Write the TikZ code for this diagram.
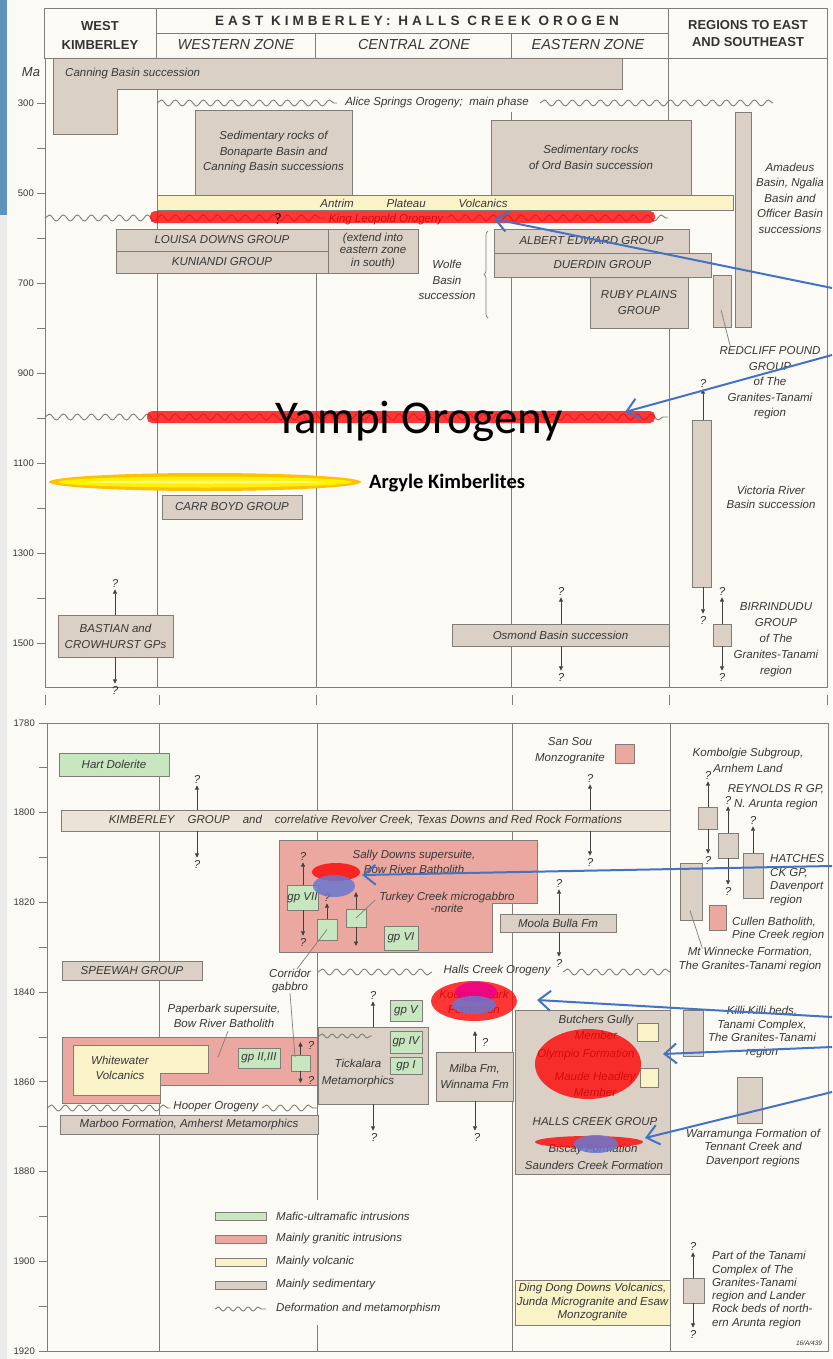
\documentclass[tikz,border=0pt]{standalone}
\usepackage{fontspec}
\setmainfont{Liberation Sans}
\newfontfamily\calibfont{Carlito}
\newfontfamily\spacedfont{Liberation Sans}[LetterSpace=30]
\usepackage{tikz}
\usetikzlibrary{arrows.meta, calc, decorations.pathmorphing, decorations.pathreplacing}
\definecolor{paper}{RGB}{251,250,244}
\definecolor{slideblue}{RGB}{96,146,186}
\definecolor{sedtan}{RGB}{218,208,197}
\definecolor{sedlight}{RGB}{236,227,215}
\definecolor{granpink}{RGB}{234,168,160}
\definecolor{mafgreen}{RGB}{200,230,192}
\definecolor{volcyel}{RGB}{251,243,200}
\definecolor{gridgrey}{RGB}{128,124,120}
\definecolor{inkgrey}{RGB}{55,55,55}
\definecolor{markblue}{RGB}{68,114,196}
\definecolor{blobblue}{RGB}{108,118,206}
\definecolor{kimbgold}{RGB}{255,192,0}

\begin{document}
\begin{tikzpicture}[x=1pt, y=-1pt,
    font=\fontsize{11.5}{15.5}\selectfont\itshape,
    grd/.style={draw=gridgrey, line width=0.9pt},
    lead/.style={draw=gridgrey, line width=0.7pt},
    wh/.style 2 args={minimum width=#1pt, minimum height=#2pt},
    sed/.style={rectangle, draw=gridgrey, line width=0.9pt, fill=sedtan,
                anchor=north west, inner sep=0pt, outer sep=0pt,
                align=center, text=inkgrey},
    gran/.style={sed, fill=granpink},
    maf/.style={sed, fill=mafgreen},
    volc/.style={sed, fill=volcyel},
    sedfill/.style={draw=gridgrey, line width=0.9pt, fill=sedtan},
    granfill/.style={sedfill, fill=granpink},
    volcfill/.style={sedfill, fill=volcyel},
    lbl/.style={inner sep=0pt, align=center, text=inkgrey},
    tight/.style={font=\fontsize{11.5}{13.5}\selectfont\itshape},
    qm/.style={lbl, font=\fontsize{11.5}{12}\selectfont\itshape},
    qa/.style={draw=black!75, line width=0.8pt, shorten >=2pt,
               -{Triangle[length=4.5pt, width=4pt]}},
    wav/.style={draw=gridgrey, line width=0.9pt, decorate,
                decoration={snake, segment length=14pt, amplitude=3pt}},
    hdr/.style={lbl, text=black!80, font=\fontsize{13}{19}\selectfont\bfseries},
    zone/.style={lbl, font=\fontsize{14.5}{15}\selectfont\itshape},
    tlab/.style={lbl, anchor=east, font=\fontsize{9.5}{10}\selectfont},
    hl/.style={fill=red, opacity=0.78},
    hb/.style={fill=blobblue, opacity=0.85},
    ba/.style={draw=markblue, line width=2pt,
               -{Straight Barb[length=12pt, width=20pt]}}
]
% background and slide edge
\useasboundingbox (0,0) rectangle (832,1359);
\fill[paper] (0,0) rectangle (832,1359);
\fill[slideblue] (0,0) rectangle (7,215);
\fill[black!8] (0,215) rectangle (7,1359);

% header
\draw[grd] (44,8) rectangle (827,58);
\draw[grd] (156,8) -- (156,58) (668,8) -- (668,58) (156,33) -- (668,33)
           (315,33) -- (315,58) (511,33) -- (511,58);
\node[hdr] (hwest) at (100,35) {WEST\\KIMBERLEY};
\node[hdr, font=\fontsize{13.5}{14}\selectfont\spacedfont\bfseries] (heast) at (417,21)
    {EAST KIMBERLEY: HALLS CREEK OROGEN};
\node[zone] (zwest) at (236,45) {WESTERN ZONE};
\node[zone] (zcent) at (414,45) {CENTRAL ZONE};
\node[zone] (zeast) at (588,45) {EASTERN ZONE};
\node[hdr, font=\fontsize{13}{17}\selectfont\bfseries] (hreg) at (748,33.5)
    {REGIONS TO EAST\\AND SOUTHEAST};
\node[lbl, font=\fontsize{13}{13}\selectfont\itshape] (maunit) at (31,72) {Ma};

% upper panel frame and ticks (200-1600 Ma)
\draw[grd] (45,58) -- (45,687) -- (827,687) -- (827,58);
\draw[grd] (157,58) -- (157,687);
\draw[grd] (316,273) -- (316,687);
\draw[grd] (511,112) -- (511,120) (511,277) -- (511,687);
\draw[grd] (668,58) -- (668,120) (669,328) -- (669,687);
\foreach \m in {300,400,...,1500}
    \draw[grd] (37,{58+(\m-200)*0.45}) -- (45,{58+(\m-200)*0.45});
\foreach \m in {300,500,...,1500}
    \node[tlab] (u\m) at (34,{58+(\m-200)*0.45}) {\m};

% break marks
\foreach \x in {45,159,316,512,669,827}
    \draw[grd] (\x,695) -- (\x,705);

% lower panel frame and ticks (1780-1920 Ma)
\draw[grd] (47,723) -- (828,723);
\draw[grd] (47,723) -- (47,1351) -- (828,1351) -- (828,723);
\draw[grd] (159,723) -- (159,1351);
\draw[grd] (317,723) -- (317,1200) (317,1325) -- (317,1351);
\draw[grd] (512,723) -- (512,1351);
\draw[grd] (670,723) -- (670,1351);
\foreach \m in {1780,1790,...,1920}
    \draw[grd] (39,{723+(\m-1780)*4.486}) -- (47,{723+(\m-1780)*4.486});
\foreach \m in {1780,1800,...,1920}
    \node[tlab] (l\m) at (35,{723+(\m-1780)*4.486}) {\m};

% ---- upper panel units
\draw[sedfill] (53,58) -- (622,58) -- (622,89) -- (117,89) -- (117,134) -- (53,134) -- cycle;
\node[lbl, anchor=west] (canning) at (65,74) {Canning Basin succession};

\draw[wav] (157,103) -- (337,103);
\node[lbl] (alice) at (437,103) {Alice Springs Orogeny;\ \ main phase};
\draw[wav] (540,103) -- (773,103);

\node[sed, wh={157}{85}] (bonap) at (195,110)
    {Sedimentary rocks of\\Bonaparte Basin and\\Canning Basin successions};
\node[sed, wh={200}{75}] (ord) at (491,120) {Sedimentary rocks\\of Ord Basin succession};
\node[volc, wh={576}{15}] (antrim) at (157,195) {};
\node[lbl] (antrimtx) at (414,203) {Antrim\hspace{33pt}Plateau\hspace{33pt}Volcanics};

\draw[wav] (45,218) -- (325,218);
\node[lbl] (kltx) at (386,220) {King Leopold Orogeny};
\draw[wav] (447,218) -- (668,218);

\node[sed, wh={16}{215}] (amadeus) at (735,112) {};
\node[lbl] (amadtx) at (790,198) {Amadeus\\Basin, Ngalia\\Basin and\\Officer Basin\\successions};

\node[sed, wh={212}{22}] (louisa) at (116,229) {LOUISA DOWNS GROUP};
\node[sed, wh={212}{22}] (kuni) at (116,251) {KUNIANDI GROUP};
\node[sed, wh={90}{44}, font=\fontsize{11.5}{12.5}\selectfont\itshape] (extend) at (328,229)
    {(extend into\\eastern zone\\in south)};
\node[lbl] (wolfe) at (447,280) {Wolfe\\Basin\\succession};
\draw[lead, decorate, decoration={brace, amplitude=4pt}] (488,318) -- (488,231);
\node[sed, wh={195}{24}] (albert) at (494,229) {ALBERT EDWARD GROUP};
\node[sed, wh={217}{24}] (duerdin) at (494,253) {DUERDIN GROUP};
\node[sed, wh={98}{51}, font=\fontsize{11.5}{16}\selectfont\itshape] (ruby) at (590,277)
    {RUBY PLAINS\\GROUP};

\node[sed, wh={18}{52}] (redcliff) at (713,275) {};
\node[lbl] (redtx) at (770,383) {REDCLIFF POUND\\GROUP\\of The\\Granites-Tanami\\region};
\draw[lead] ($(redcliff.center)+(-1,9)$) -- ($(redtx.north west)+(11,0)$);

\draw[wav] (45,417) -- (668,417);

\node[qm] (victq1) at (703,383) {?};
\node[sed, wh={19}{167}] (vict) at (692,420) {};
\node[qm] (victq2) at (703,620) {?};
\draw[qa] (vict.north -| victq1) -- (victq1.south);
\draw[qa] (vict.south -| victq2) -- (victq2.north);
\node[lbl, font=\fontsize{11.5}{14}\selectfont\itshape] (victtx) at (771,497)
    {Victoria River\\Basin succession};

\node[sed, wh={140}{24}] (carr) at (162,495) {CARR BOYD GROUP};

\node[sed, wh={115}{42}, font=\fontsize{11.5}{16}\selectfont\itshape] (bastian) at (58,615)
    {BASTIAN and\\CROWHURST GPs};
\node[qm] (bastq1) at (115,583) {?};
\node[qm] (bastq2) at (115,690) {?};
\draw[qa] (bastian.north -| bastq1) -- (bastq1.south);
\draw[qa] (bastian.south -| bastq2) -- (bastq2.north);

\node[sed, wh={217}{22}] (osmond) at (452,624) {Osmond Basin succession};
\node[qm] (osmq1) at (561,591) {?};
\node[qm] (osmq2) at (561,677) {?};
\draw[qa] (osmond.north -| osmq1) -- (osmq1.south);
\draw[qa] (osmond.south -| osmq2) -- (osmq2.north);

\node[sed, wh={18}{22}] (birri) at (713,624) {};
\node[qm] (birq1) at (722,591) {?};
\node[qm] (birq2) at (722,677) {?};
\draw[qa] (birri.north -| birq1) -- (birq1.south);
\draw[qa] (birri.south -| birq2) -- (birq2.north);
\node[lbl, font=\fontsize{11.5}{16}\selectfont\itshape] (birritx) at (776,640)
    {BIRRINDUDU\\GROUP\\of The\\Granites-Tanami\\region};

% ---- lower panel units
\node[maf, wh={110}{23}] (hart) at (59,753) {Hart Dolerite};

\node[sed, wh={609}{21}, fill=sedlight] (kimb) at (61,810)
    {KIMBERLEY\hspace{13pt}GROUP\hspace{13pt}and\hspace{13pt}correlative Revolver Creek, Texas Downs and Red Rock Formations};
\node[qm] (kimq1) at (197,779) {?};
\node[qm] (kimq2) at (197,864) {?};
\node[qm] (kimq3) at (590,778) {?};
\node[qm] (kimq4) at (590,862) {?};
\draw[qa] (kimb.north -| kimq1) -- (kimq1.south);
\draw[qa] (kimb.south -| kimq2) -- (kimq2.north);
\draw[qa] (kimb.north -| kimq3) -- (kimq3.south);
\draw[qa] (kimb.south -| kimq4) -- (kimq4.north);

\node[gran, wh={19}{19}] (sansou) at (615,744) {};
\node[lbl, font=\fontsize{11.5}{16}\selectfont\itshape] (sansoutx) at (570,751)
    {San Sou\\Monzogranite};

\draw[granfill] (279,840) -- (537,840) -- (537,903) -- (492,903) -- (492,952) -- (279,952) -- cycle;
\node[lbl, font=\fontsize{11.5}{15}\selectfont\itshape] (sallytx) at (414,862)
    {Sally Downs supersuite,\\Bow River Batholith};
\node[lbl, font=\fontsize{11.5}{12}\selectfont\itshape] (turktx) at (447,902)
    {Turkey Creek microgabbro\\-norite};

\node[maf, wh={31}{25}] (gp7) at (287,885) {gp VII};
\node[qm] (gp7q1) at (303,856) {?};
\node[qm] (gp7q2) at (303,942) {?};
\draw[qa] (gp7.north -| gp7q1) -- (gp7q1.south);
\draw[qa] (gp7.south -| gp7q2) -- (gp7q2.north);

\node[maf, wh={20}{21}] (gpc1) at (317,919) {};
\node[qm] (gpc1q) at (327,897) {?};
\draw[qa] (gpc1.north) -- (gpc1q.south);

\node[maf, wh={20}{18}] (gpt) at (346,909) {};
\coordinate (gptu) at (356,890);
\coordinate (gptd) at (356,948);
\draw[qa] (gpt.north) -- (gptu);
\draw[qa] (gpt.south) -- (gptd);
\draw[lead] (gpt.center) -- ($(turktx.west)+(-4,-2)$);

\node[maf, wh={34}{24}] (gp6) at (384,926) {gp VI};

\node[sed, wh={116}{18}] (moola) at (500,914) {Moola Bulla Fm};
\node[qm] (moolq1) at (559,883) {?};
\node[qm] (moolq2) at (559,963) {?};
\draw[qa] (moola.north -| moolq1) -- (moolq1.south);
\draw[qa] (moola.south -| moolq2) -- (moolq2.north);

\draw[wav] (318,972) -- (432,972);
\node[lbl] (hcotx) at (497,971) {Halls Creek Orogeny};
\draw[wav] (563,972) -- (670,972);

\node[sed, wh={140}{19}] (speewah) at (62,961) {SPEEWAH GROUP};

\node[lbl, font=\fontsize{11.5}{13}\selectfont\itshape] (corrtx) at (290,981) {Corridor\\gabbro};
\draw[lead] (gpc1.center) -- ($(corrtx.north)+(7,0)$);

\node[lbl] (paptx) at (224,1016) {Paperbark supersuite,\\Bow River Batholith};
\draw[granfill] (62,1037) -- (317,1037) -- (317,1085) -- (160,1085) -- (160,1103) -- (62,1103) -- cycle;
\draw[volcfill] (73,1045) -- (208,1045) -- (208,1073) -- (160,1073) -- (160,1095) -- (73,1095) -- cycle;
\node[lbl] (whitetx) at (120,1068) {Whitewater\\Volcanics};
\coordinate (papend) at (218,1057);
\draw[lead] ($(paptx.south)+(4,3)$) -- (papend);

\node[maf, wh={42}{20}] (gp23) at (238,1048) {gp II,III};
\node[maf, wh={19}{16}] (gpc2) at (291,1055) {};
\coordinate (gpc2u) at (300.5,1040);
\coordinate (gpc2d) at (300.5,1085);
\draw[qa] (gpc2.north) -- (gpc2u);
\draw[qa] (gpc2.south) -- (gpc2d);
\node[qm] (gpc2q1) at (311,1045) {?};
\node[qm] (gpc2q2) at (311,1080) {?};
\draw[lead] (corrtx.south) -- ($(gpc2.north west)+(4,2)$);

\node[sed, wh={110}{77}] (tick) at (318,1027) {};
\draw[wav, decoration={snake, segment length=10pt, amplitude=2pt}] (319,1036) -- (372,1036);
\node[lbl, font=\fontsize{11.5}{16.5}\selectfont\itshape] (ticktx) at (358,1073)
    {Tickalara\\Metamorphics};
\node[qm] (tickq1) at (373,995) {?};
\node[qm] (tickq2) at (374,1137) {?};
\draw[qa] (tick.north -| tickq1) -- (tickq1.south);
\draw[qa] (tick.south -| tickq1) -- (tickq2.north -| tickq1);

\node[maf, wh={32}{21}] (gp5) at (390,1000) {gp V};
\node[maf, wh={32}{22}] (gp4) at (390,1031) {gp IV};
\node[maf, wh={32}{17}] (gp1) at (390,1057) {gp I};

\node[lbl] (koongtx) at (474,1002) {Koongie Park\\Formation};
\node[sed, wh={77}{49}] (milba) at (436,1052) {Milba Fm,\\Winnama Fm};
\coordinate (milbu) at (475,1029);
\draw[qa] (milba.north -| milbu) -- (milbu);
\node[qm] (milbq1) at (485,1042) {?};
\node[qm] (milbq2) at (477,1137) {?};
\draw[qa] (milba.south -| milbu) -- (milbq2.north -| milbu);

\node[sed, wh={155}{164}] (hcg) at (515,1010) {};
\node[lbl, font=\fontsize{11.5}{16}\selectfont\itshape] (butch) at (596,1027) {Butchers Gully\\Member};
\node[lbl] (olymp) at (586,1055) {Olympio Formation};
\node[lbl, font=\fontsize{11.5}{16}\selectfont\itshape] (maude) at (595,1084) {Maude Headley\\Member};
\node[lbl] (hcgtx) at (595,1122) {HALLS CREEK GROUP};
\node[lbl] (biscay) at (593,1150) {Biscay Formation};
\node[lbl] (saund) at (594,1165) {Saunders Creek Formation};
\node[volc, wh={21}{18}] (hcgv1) at (637,1023) {};
\node[volc, wh={18}{19}] (hcgv2) at (640,1068) {};

\node[volc, wh={155}{45}, tight] (dingdong) at (515,1280)
    {Ding Dong Downs Volcanics,\\Junda Microgranite and Esaw\\Monzogranite};

\draw[wav] (47,1108) -- (170,1108);
\node[lbl] (hooptx) at (216,1107) {Hooper Orogeny};
\draw[wav] (262,1108) -- (317,1108);
\node[sed, wh={258}{19}] (marboo) at (60,1115) {Marboo Formation, Amherst Metamorphics};

% legend
\node[maf, wh={51}{8}] (legmaf) at (215,1212) {};
\node[lbl, anchor=west] (legmaftx) at (276,1216) {Mafic-ultramafic intrusions};
\node[gran, wh={51}{8}] (leggran) at (215,1235) {};
\node[lbl, anchor=west] (leggrantx) at (276,1239) {Mainly granitic intrusions};
\node[volc, wh={51}{8}] (legvolc) at (215,1258) {};
\node[lbl, anchor=west] (legvolctx) at (276,1262) {Mainly volcanic};
\node[sed, wh={51}{8}] (legsed) at (215,1281) {};
\node[lbl, anchor=west] (legsedtx) at (276,1285) {Mainly sedimentary};
\draw[wav, decoration={snake, segment length=10pt, amplitude=2pt}] (215,1309) -- (266,1309);
\node[lbl, anchor=west] (legwavtx) at (276,1309) {Deformation and metamorphism};

% regions to east, lower panel
\node[lbl, font=\fontsize{11.5}{16}\selectfont\itshape] (kombtx) at (748,760)
    {Kombolgie Subgroup,\\Arnhem Land};
\node[sed, wh={19}{22}] (reg1) at (698,807) {};
\node[qm] (reg1q1) at (708,775) {?};
\node[qm] (reg1q2) at (708,860) {?};
\draw[qa] (reg1.north -| reg1q1) -- (reg1q1.south);
\draw[qa] (reg1.south -| reg1q2) -- (reg1q2.north);
\node[lbl, font=\fontsize{11.5}{15}\selectfont\itshape] (reyntx) at (776,797)
    {REYNOLDS R GP,\\N. Arunta region};
\node[sed, wh={20}{25}] (reg2) at (718,833) {};
\node[qm] (reg2q1) at (728,800) {?};
\node[qm] (reg2q2) at (728,891) {?};
\draw[qa] (reg2.north -| reg2q1) -- (reg2q1.south);
\draw[qa] (reg2.south -| reg2q2) -- (reg2q2.north);
\node[sed, wh={20}{45}] (reg3) at (743,853) {};
\node[qm] (reg3q1) at (753,820) {?};
\draw[qa] (reg3.north -| reg3q1) -- (reg3q1.south);
\node[lbl, anchor=west, align=left, tight] (hatchtx) at (770,880)
    {HATCHES\\CK GP,\\Davenport\\region};

\node[sed, wh={22}{57}] (reg4) at (680,863) {};
\node[gran, wh={17}{25}] (cullen) at (709,905) {};
\node[lbl, anchor=west, align=left, tight] (cultx) at (732,929)
    {Cullen Batholith,\\Pine Creek region};
\node[lbl, font=\fontsize{11.5}{14}\selectfont\itshape] (mtwtx) at (750,960)
    {Mt Winnecke Formation,\\The Granites-Tanami region};
\draw[lead] ($(reg4.center)+(-1,19)$) -- ($(mtwtx.north west)+(24,1)$);

\node[sed, wh={20}{46}] (killi) at (683,1010) {};
\node[lbl, tight] (killtx) at (762,1032)
    {Killi Killi beds,\\Tanami Complex,\\The Granites-Tanami\\region};

\node[sed, wh={25}{46}] (warra) at (737,1077) {};
\node[lbl, tight] (warratx) at (753,1148)
    {Warramunga Formation of\\Tennant Creek and\\Davenport regions};

\node[sed, wh={21}{25}] (tanpart) at (683,1278) {};
\node[qm] (tanq1) at (693,1246) {?};
\node[qm] (tanq2) at (693,1334) {?};
\draw[qa] (tanpart.north -| tanq1) -- (tanq1.south);
\draw[qa] (tanpart.south -| tanq2) -- (tanq2.north);
\node[lbl, anchor=west, align=left, font=\fontsize{11.5}{13.3}\selectfont\itshape] (tanparttx) at (712,1290)
    {Part of the Tanami\\Complex of The\\Granites-Tanami\\region and Lander\\Rock beds of north-\\ern Arunta region};
\node[lbl, font=\fontsize{6.5}{7}\selectfont\itshape] (figid) at (809,1343) {16/A/439};

% ---- highlights added on the slide
\fill[hl, rounded corners=5pt] (150,211) rectangle (655,223);
\node[lbl, text=black, font=\calibfont\fontsize{16}{16}\selectfont] (klq) at (278,219) {?};
\fill[hl, rounded corners=5pt] (147,411) rectangle (655,423);
\node[lbl, text=black, anchor=base, font=\calibfont\fontsize{47}{47}\selectfont] (yampi) at (419,433)
    {Yampi Orogeny};

\fill[kimbgold] (205,482) ellipse [x radius=156, y radius=9];
\fill[yellow] (205,482) ellipse [x radius=147, y radius=5.5];
\fill[yellow!50!white] (205,482) ellipse [x radius=120, y radius=1.5];
\node[lbl, text=black, anchor=base west, font=\calibfont\bfseries\fontsize{20.5}{21}\selectfont] (argyle)
    at (369,488) {Argyle Kimberlites};

\fill[hl] (336,872) ellipse [x radius=24, y radius=9];
\fill[hb] (334,886) ellipse [x radius=21, y radius=11];
\fill[hl] (474,1001) ellipse [x radius=43, y radius=20];
\fill[magenta, opacity=0.85] (476,992) ellipse [x radius=21, y radius=10];
\fill[hb] (474,1005) ellipse [x radius=22, y radius=9];
\fill[hl] (588,1064) ellipse [x radius=53, y radius=35];
\fill[hl] (589,1142) ellipse [x radius=54, y radius=6];
\fill[hb] (596,1144) ellipse [x radius=22, y radius=9];

% ---- pointer arrows
\coordinate (klsrc) at (832,288);  \coordinate (kltip) at (494,219);
\coordinate (yasrc) at (832,355);  \coordinate (yatip) at (625,412);
\coordinate (sdsrc) at (832,866);  \coordinate (sdtip) at (362,875);
\coordinate (kpsrc) at (832,1017); \coordinate (kptip) at (537,1000);
\coordinate (olsrc) at (832,1047); \coordinate (oltip) at (663,1054);
\coordinate (bisrc) at (832,1092); \coordinate (bitip) at (645,1138);
\draw[ba] (klsrc) -- (kltip);
\draw[ba] (yasrc) -- (yatip);
\draw[ba] (sdsrc) -- (sdtip);
\draw[ba] (kpsrc) -- (kptip);
\draw[ba] (olsrc) -- (oltip);
\draw[ba] (bisrc) -- (bitip);
\end{tikzpicture}
\end{document}
